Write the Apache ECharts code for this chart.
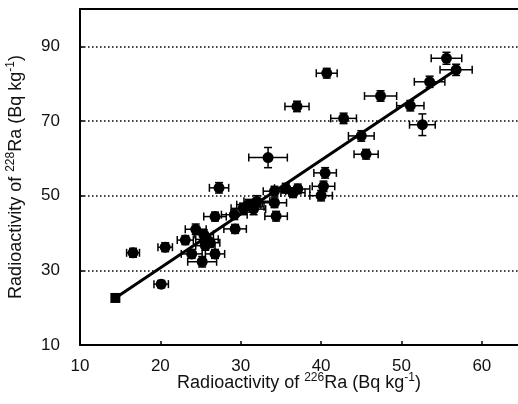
<!DOCTYPE html>
<html>
<head>
<meta charset="utf-8">
<script src="https://cdn.jsdelivr.net/npm/echarts@6/dist/echarts.min.js"></script>
<style>
html, body { margin: 0; padding: 0; background: #fff; }
#chart { width: 518px; height: 404px; }
</style>
</head>
<body>
<div id="chart"></div>
<script>
// 226Ra vs 228Ra activity (Bq/kg)
var ra226 = [16.6, 20.1, 20.6, 23.1, 24.4, 23.9, 25.2, 25.6, 25.8, 25.4, 26.2, 26.8, 26.8, 27.3,
	29.3, 29.2, 30.3, 31.0, 31.6, 32.0, 31.4, 33.4, 34.2, 34.2, 34.4, 35.6, 36.5, 37.1, 37.0,
	40.0, 40.3, 40.5, 40.7, 42.8, 45.0, 45.6, 47.4, 51.1, 52.6, 53.5, 55.6, 56.8];
var ra228 = [34.7, 26.3, 36.2, 38.1, 41.0, 34.4, 32.3, 36.6, 38.3, 39.6, 37.4, 34.4, 44.4, 52.1,
	41.1, 44.9, 46.6, 47.6, 46.4, 48.5, 47.0, 60.2, 51.2, 48.1, 44.5, 52.0, 50.8, 51.8, 73.9,
	50.0, 52.5, 56.1, 82.8, 70.7, 66.0, 61.1, 76.7, 74.1, 69.0, 80.5, 86.8, 83.7];
var err226 = [0.8, 0.9, 0.9, 1.0, 1.3, 1.3, 1.8, 1.2, 1.4, 1.2, 1.2, 1.2, 1.4, 1.2,
	1.4, 1.6, 1.5, 1.5, 1.5, 1.6, 1.5, 2.4, 1.4, 1.5, 1.4, 1.4, 1.5, 1.5, 1.5,
	1.4, 1.4, 1.4, 1.3, 1.6, 1.6, 1.5, 2.0, 1.7, 1.6, 1.9, 1.9, 2.0];
var err228 = [1.2, 1.0, 1.2, 1.2, 1.4, 1.2, 1.4, 1.2, 1.3, 1.3, 1.2, 1.2, 1.2, 1.4,
	1.2, 1.3, 1.4, 1.4, 1.5, 1.5, 1.4, 2.7, 1.3, 1.3, 1.3, 1.3, 1.3, 1.3, 1.4,
	1.4, 1.4, 1.4, 1.3, 1.4, 1.4, 1.3, 1.4, 1.4, 2.9, 1.5, 1.6, 1.5];
// lowest sample (square marker, no error bars)
var lowPoint = [14.4, 22.6];
// regression line end points
var fitX = [14.4, 56.8];
var fitY = [22.6, 83.7];

var myChart = echarts.init(document.getElementById('chart'));

var pts = [];
var bars = [];
for (var i = 0; i < ra226.length; i++) {
	pts.push([ra226[i], ra228[i]]);
	bars.push([ra226[i], ra228[i], err226[i], err228[i]]);
}
var fitLine = [];
for (var j = 0; j < fitX.length; j++) {
	fitLine.push([fitX[j], fitY[j]]);
}

var font = 'Liberation Sans, Arial, sans-serif';
var richName = {
	n: { fontSize: 18, fontFamily: font, color: '#111', lineHeight: 22 },
	s: { fontSize: 12, fontFamily: font, color: '#111', verticalAlign: 'top', lineHeight: 13 }
};

var option = {
	animation: false,
	backgroundColor: '#fff',
	grid: { left: 80, right: 0, top: 9, bottom: 59, outerBoundsMode: 'none' },
	xAxis: [{
		type: 'value',
		min: 10,
		max: 64.5,
		interval: 10,
		position: 'bottom',
		name: '{n|Radioactivity of }{s|226}{n|Ra (Bq kg}{s|-1}{n|)}',
		nameLocation: 'middle',
		nameGap: 27,
		nameMoveOverlap: false,
		nameTextStyle: { rich: richName },
		axisLine: { lineStyle: { color: '#000', width: 2 } },
		axisTick: { inside: true, length: 4, lineStyle: { color: '#000', width: 1.5 } },
		axisLabel: {
			showMaxLabel: false,
			margin: 13,
			fontSize: 17,
			fontFamily: font,
			color: '#111'
		},
		splitLine: { show: false }
	}, {
		type: 'value',
		min: 10,
		max: 64.5,
		position: 'top',
		axisLine: { show: true, lineStyle: { color: '#000', width: 2 } },
		axisTick: { show: false },
		axisLabel: { show: false },
		splitLine: { show: false }
	}],
	yAxis: {
		type: 'value',
		min: 10,
		max: 100,
		interval: 20,
		name: '{n|Radioactivity of }{s|228}{n|Ra (Bq kg}{s|-1}{n|)}',
		nameLocation: 'middle',
		nameRotate: 90,
		nameGap: 53,
		nameMoveOverlap: false,
		nameTextStyle: { rich: richName },
		axisLine: { show: true, lineStyle: { color: '#000', width: 2 } },
		axisTick: { show: true, inside: true, length: 4, lineStyle: { color: '#000', width: 1.5 } },
		axisLabel: {
			showMaxLabel: false,
			margin: 20,
			fontSize: 17,
			fontFamily: font,
			color: '#111'
		},
		splitLine: {
			show: true,
			lineStyle: { color: '#000', width: 1.5, type: [1.5, 2.5] }
		}
	},
	series: [{
		// error bars
		type: 'custom',
		data: bars,
		z: 3,
		renderItem: function (params, api) {
			var x = api.value(0), y = api.value(1);
			var ex = api.value(2), ey = api.value(3);
			var c = api.coord([x, y]);
			var l = api.coord([x - ex, y]);
			var r = api.coord([x + ex, y]);
			var t = api.coord([x, y + ey]);
			var b = api.coord([x, y - ey]);
			var cap = 4;
			var st = { stroke: '#000', lineWidth: 1.5 };
			return {
				type: 'group',
				children: [
					{ type: 'line', shape: { x1: l[0], y1: c[1], x2: r[0], y2: c[1] }, style: st },
					{ type: 'line', shape: { x1: l[0], y1: c[1] - cap, x2: l[0], y2: c[1] + cap }, style: st },
					{ type: 'line', shape: { x1: r[0], y1: c[1] - cap, x2: r[0], y2: c[1] + cap }, style: st },
					{ type: 'line', shape: { x1: c[0], y1: t[1], x2: c[0], y2: b[1] }, style: st },
					{ type: 'line', shape: { x1: c[0] - cap, y1: t[1], x2: c[0] + cap, y2: t[1] }, style: st },
					{ type: 'line', shape: { x1: c[0] - cap, y1: b[1], x2: c[0] + cap, y2: b[1] }, style: st }
				]
			};
		}
	}, {
		type: 'line',
		data: fitLine,
		symbol: 'none',
		z: 4,
		lineStyle: { color: '#000', width: 3 }
	}, {
		type: 'scatter',
		data: pts,
		symbol: 'circle',
		symbolSize: 11,
		z: 5,
		itemStyle: { color: '#000', opacity: 1 }
	}, {
		type: 'scatter',
		data: [lowPoint],
		symbol: 'rect',
		symbolSize: 10,
		z: 5,
		itemStyle: { color: '#000', opacity: 1 }
	}]
};
myChart.setOption(option);
</script>
</body>
</html>
